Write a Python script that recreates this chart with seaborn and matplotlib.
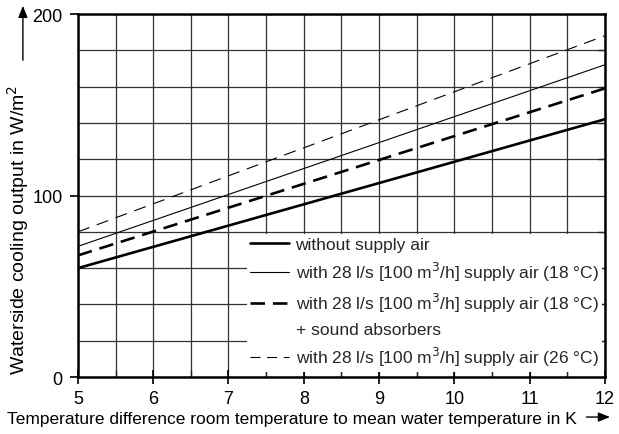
import matplotlib
matplotlib.use("Agg")
import matplotlib.pyplot as plt
import matplotlib.patches as mpatches
import seaborn as sns
import pandas as pd
from matplotlib.lines import Line2D

sns.set_theme(style="white")
plt.rcParams["font.family"] = ["Liberation Sans", "DejaVu Sans"]

x_vals = [5, 12]
without_air = [60, 142]
air_18 = [72, 172]
air_18_absorbers = [67, 159]
air_26 = [80, 188]

labels = [
    "without supply air",
    "with 28 l/s [100 m$^3$/h] supply air (18 °C)",
    "with 28 l/s [100 m$^3$/h] supply air (18 °C)",
    "+ sound absorbers",
    "with 28 l/s [100 m$^3$/h] supply air (26 °C)",
]

df = pd.DataFrame({
    "x": x_vals * 4,
    "y": without_air + air_18 + air_18_absorbers + air_26,
    "series": ["a"] * 2 + ["b"] * 2 + ["c"] * 2 + ["d"] * 2,
})

fig = plt.figure(figsize=(6.19, 4.35), dpi=100)
ax = fig.add_axes([0.126, 0.131, 0.851, 0.8345])

styles = {
    "a": dict(lw=1.9, ls="-"),
    "b": dict(lw=0.8, ls="-"),
    "c": dict(lw=1.9, ls=(0, (5.5, 3))),
    "d": dict(lw=0.8, ls=(0, (11, 7))),
}
for key, st in styles.items():
    sub = df[df.series == key]
    sns.lineplot(data=sub, x="x", y="y", ax=ax, color="black",
                 linewidth=st["lw"], linestyle=st["ls"], legend=False)

ax.set_xlim(5, 12)
ax.set_ylim(0, 200)
ax.set_xticks(range(5, 13))
ax.set_xticks([i + 0.5 for i in range(5, 12)], minor=True)
ax.set_yticks([0, 100, 200])
ax.set_yticks([20, 40, 60, 80, 120, 140, 160, 180], minor=True)
ax.grid(True, which="both", color="#333333", linewidth=0.9)
ax.set_axisbelow(True)
for s in ax.spines.values():
    s.set_color("black")
    s.set_linewidth(1.8)
ax.tick_params(axis="x", which="major", direction="inout", length=10, width=1.2,
               labelsize=13, pad=4, colors="black", bottom=True)
ax.tick_params(axis="x", which="minor", direction="in", length=5, width=1.0, bottom=True)
ax.tick_params(axis="y", which="major", direction="out", length=6, width=1.2,
               labelsize=13, pad=5, colors="black", left=True)
ax.tick_params(axis="y", which="minor", direction="in", length=5, width=1.0,
               left=False, right=True)
ax.set_xlabel("")
ax.set_ylabel("")

handles = [
    Line2D([], [], color="black", lw=1.9, ls="-"),
    Line2D([], [], color="black", lw=0.8, ls="-"),
    Line2D([], [], color="black", lw=1.9, ls=(0, (5.5, 3))),
    Line2D([], [], color="none", lw=0),
    Line2D([], [], color="black", lw=0.8, ls=(0, (9, 6))),
]
leg = ax.legend(handles, labels, loc="lower right", bbox_to_anchor=(0.995, 0.015),
                frameon=True, fontsize=12.5, handlelength=2.2, handletextpad=0.4,
                labelspacing=0.45, borderpad=0.2, borderaxespad=0.0)
leg.get_frame().set_facecolor("white")
leg.get_frame().set_edgecolor("none")
leg.get_frame().set_alpha(1)

fig.text(0.008, 1 - 375 / 435, "Waterside cooling output in W/m$^2$",
         rotation=90, fontsize=14, ha="left", va="bottom", color="black")
fig.text(0.012, 0.018, "Temperature difference room temperature to mean water temperature in K",
         fontsize=12.5, ha="left", va="bottom", color="black")
fig.patches.append(mpatches.FancyArrowPatch(
    (0.037, 1 - 64 / 435), (0.037, 1 - 4 / 435), transform=fig.transFigure,
    arrowstyle="-|>,head_length=7,head_width=2.8", color="black", lw=1.0))
fig.patches.append(mpatches.FancyArrowPatch(
    (0.943, 0.039), (0.99, 0.039), transform=fig.transFigure,
    arrowstyle="-|>,head_length=7,head_width=2.8", color="black", lw=1.0))

fig.savefig("out.png", dpi=100)
